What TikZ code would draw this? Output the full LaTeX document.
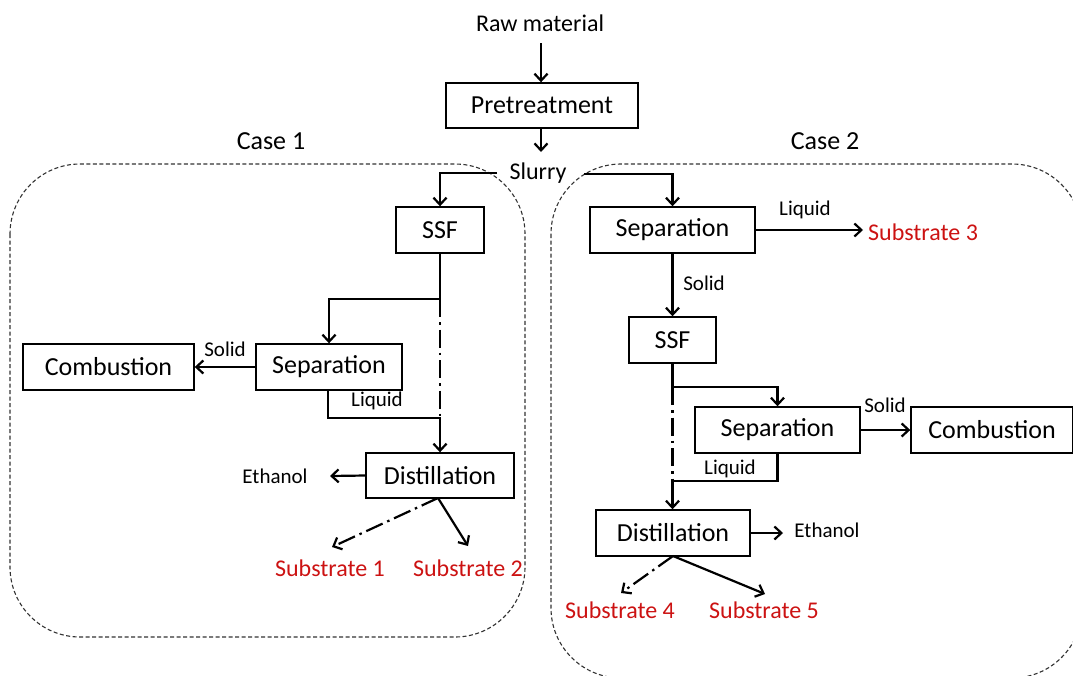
\documentclass[tikz,border=0pt]{standalone}
\usepackage{fontspec}
\setmainfont{Carlito}
\usetikzlibrary{arrows.meta}
\definecolor{subred}{RGB}{204,18,18}
\definecolor{casegray}{RGB}{50,50,50}
\begin{document}
\begin{tikzpicture}[x=1pt,y=-1pt,
  box/.style={draw, line width=1.4pt, minimum height=46pt, inner sep=0pt, font=\fontsize{26}{30}\selectfont},
  lbl/.style={inner sep=0pt, font=\fontsize{24}{28}\selectfont},
  small/.style={inner sep=0pt, font=\fontsize{21}{24}\selectfont},
  sub/.style={inner sep=0pt, text=subred, font=\fontsize{24}{28}\selectfont},
  casebox/.style={draw=casegray, line width=1.1pt, dash pattern=on 4pt off 2.5pt, rounded corners=70pt},
  flow/.style={line width=2.2pt, -{Straight Barb[length=7pt,width=13pt]}},
  link/.style={line width=2.2pt},
  dd/.style={line width=2.2pt, dash pattern=on 18pt off 5pt on 2.5pt off 5pt},
  ddflow/.style={dd, -{Straight Barb[length=7pt,width=13pt]}}
]
\useasboundingbox (0,0) rectangle (1073,675);
\clip (0,0) rectangle (1073,675);

% case boxes
\draw[casebox] (10,164) rectangle (525,637);
\draw[casebox] (551,164) rectangle (1082,678);
\node[lbl, font=\fontsize{26}{30}\selectfont] (case1) at (271,141) {Case 1};
\node[lbl, font=\fontsize{26}{30}\selectfont] (case2) at (825,141) {Case 2};

% top
\node[lbl] (raw) at (540,23) {Raw material};
\node[box, minimum width=192pt, minimum height=45pt] (pre) at (542,105.5) {Pretreatment};
\node[lbl] (slurry) at (538,173) {Slurry};
\draw[flow] (541,43) -- (pre.north -| 541,0);
\coordinate (preout) at (541,152);
\draw[flow] (pre.south -| 541,0) -- (preout);

% Case 1 nodes
\node[box, minimum width=88pt] (ssf1) at (440,230) {SSF};
\node[box, minimum width=146pt] (sep1) at (329,367) {Separation};
\node[box, minimum width=171pt] (comb1) at (108.5,367) {Combustion};
\node[box, minimum width=148pt, minimum height=45pt] (dist1) at (440,475.5) {Distillation};
\node[small] (eth1) at (275,476) {Ethanol};
\node[sub] (s1) at (330,568) {Substrate 1};
\node[sub] (s2) at (468,568) {Substrate 2};

% Case 1 connectors
\coordinate (sl1) at (497,173);
\coordinate (sl1b) at (440,173);
\draw[flow] (sl1) -- (sl1b) -- (ssf1.north);
\coordinate (j1) at (440,299);
\coordinate (j1l) at (329,299);
\draw[link] (ssf1.south) -- (j1);
\draw[flow] (j1) -- (j1l) -- (sep1.north);
\coordinate (j2) at (440,418);
\coordinate (j2l) at (328,418);
\draw[dd] (j1) -- (j2);
\draw[flow] (sep1.south -| j2l) -- (j2l) -- (j2) -- (dist1.north);
\draw[flow] (sep1.west) -- (comb1.east) node[midway, above=9pt, small] (solid1) {Solid};
\node[small] (liq1) at (377,401) {Liquid};
\coordinate (e1) at (330,476);
\draw[flow] (dist1.west) -- (e1);
\coordinate (d1b) at (438,498);
\coordinate (a1) at (332,547);
\coordinate (a2) at (468,546);
\draw[ddflow] (d1b) -- (a1);
\draw[flow] (d1b) -- (a2);

% Case 2 nodes
\node[box, minimum width=165pt] (sep2) at (672.5,230) {Separation};
\node[box, minimum width=87pt] (ssf2) at (672.5,340) {SSF};
\node[box, minimum width=165pt] (sep3) at (777.5,430) {Separation};
\node[box, minimum width=162pt] (comb2) at (992,430) {Combustion};
\node[box, minimum width=154pt] (dist2) at (673,533) {Distillation};
\node[sub, anchor=west] (s3) at (868,232) {Substrate 3};
\node[small] (eth2) at (827,530) {Ethanol};
\node[sub] (s4) at (620,610) {Substrate 4};
\node[sub] (s5) at (764,610) {Substrate 5};

% Case 2 connectors
\coordinate (sl2) at (584,174);
\coordinate (sl2b) at (672.5,174);
\draw[flow] (sl2) -- (sl2b) -- (sep2.north);
\coordinate (l3) at (863,230);
\draw[flow] (sep2.east) -- (l3);
\node[small] (liq2) at (805,210) {Liquid};
\draw[flow] (sep2.south) -- (ssf2.north);
\node[small] (solid2) at (704,283) {Solid};
\coordinate (j3) at (672.5,387);
\coordinate (j3r) at (777.5,387);
\draw[link] (ssf2.south) -- (j3);
\draw[flow] (j3) -- (j3r) -- (sep3.north);
\coordinate (j4) at (672.5,481);
\coordinate (j4r) at (777.5,481);
\draw[dd] (j3) -- (j4);
\draw[flow] (sep3.south) -- (j4r) -- (j4) -- (dist2.north -| j4);
\draw[flow] (sep3.east) -- (comb2.west);
\node[small] (solid3) at (885,405) {Solid};
\node[small] (liq3) at (730,469) {Liquid};
\coordinate (e2) at (783,533);
\draw[flow] (dist2.east) -- (e2);
\coordinate (d2b) at (673,556);
\coordinate (a4) at (621,593);
\coordinate (a5) at (765,594);
\draw[ddflow] (d2b) -- (a4);
\draw[flow] (d2b) -- (a5);
\end{tikzpicture}
\end{document}
